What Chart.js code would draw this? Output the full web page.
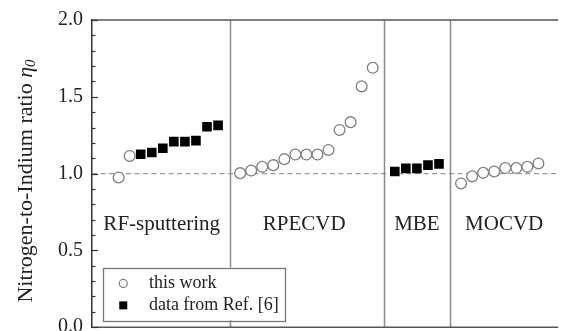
<!DOCTYPE html>
<html>
<head>
<meta charset="utf-8">
<script src="https://cdn.jsdelivr.net/npm/chart.js@4/dist/chart.umd.min.js"></script>
<style>
  html, body { margin: 0; padding: 0; overflow: hidden; background: #fff; }
  #wrap { width: 565px; height: 334px; }
</style>
</head>
<body>
<div id="wrap"><canvas id="chartRatio" width="565" height="334"></canvas></div>
<script>
// deposition methods and where they sit along the sample index
const groups = ['RF-sputtering', 'RPECVD', 'MBE', 'MOCVD'];
const groupLabelX = [3.9, 16.8, 27.0, 34.9];
const dividerX = [10.05, 24, 30];

// this work (open circles)
const thisWorkX = [0, 1,
  11, 12, 13, 14, 15, 16, 17, 18, 19, 20, 21, 22, 23,
  31, 32, 33, 34, 35, 36, 37, 38];
const thisWorkY = [0.975, 1.115,
  1.003, 1.02, 1.044, 1.055, 1.094, 1.124, 1.124, 1.124, 1.154, 1.284, 1.335, 1.568, 1.689,
  0.936, 0.982, 1.005, 1.014, 1.036, 1.036, 1.044, 1.066];

// data from Ref. [6] (filled squares)
const refX = [2, 3, 4, 5, 6, 7, 8, 9, 25, 26, 27, 28, 29];
const refY = [1.126, 1.137, 1.165, 1.208, 1.208, 1.215, 1.305, 1.314,
  1.014, 1.034, 1.034, 1.055, 1.063];

const yTicks = [0, 0.5, 1.0, 1.5, 2.0];
const refLine = 1.0;

const serif = 'Liberation Serif';

function toPoints(xs, ys) {
  return xs.map((x, i) => ({ x: x, y: ys[i] }));
}

// dividers, dashed 1.0 line, method names, frame and inward ticks
const decorations = {
  id: 'decorations',
  beforeDatasetsDraw(chart) {
    const { ctx, chartArea: a, scales: { x, y } } = chart;
    ctx.save();
    // dashed line at ratio 1
    ctx.strokeStyle = '#9a9a9a';
    ctx.lineWidth = 1.3;
    ctx.setLineDash([5, 3.5]);
    ctx.beginPath();
    ctx.moveTo(a.left, y.getPixelForValue(refLine));
    ctx.lineTo(a.right, y.getPixelForValue(refLine));
    ctx.stroke();
    ctx.setLineDash([]);
    // vertical dividers
    ctx.strokeStyle = '#8c8c8c';
    ctx.lineWidth = 1.5;
    dividerX.forEach(v => {
      const px = Math.round(x.getPixelForValue(v)) + 0.5;
      ctx.beginPath();
      ctx.moveTo(px, a.top);
      ctx.lineTo(px, a.bottom);
      ctx.stroke();
    });
    // method names
    ctx.fillStyle = '#222';
    ctx.font = '21px "' + serif + '"';
    ctx.textAlign = 'center';
    ctx.textBaseline = 'middle';
    groups.forEach((g, i) => {
      ctx.fillText(g, x.getPixelForValue(groupLabelX[i]), y.getPixelForValue(0.667));
    });
    // frame: top and bottom
    ctx.strokeStyle = '#555';
    ctx.lineWidth = 1.5;
    ctx.beginPath();
    ctx.moveTo(a.left, a.top);
    ctx.lineTo(a.right, a.top);
    ctx.moveTo(a.left, a.bottom);
    ctx.lineTo(a.right, a.bottom);
    ctx.stroke();
    // inward ticks on the left axis
    ctx.strokeStyle = '#333';
    ctx.lineWidth = 1.2;
    for (let k = 0; k <= 20; k++) {
      const py = Math.round(y.getPixelForValue(k / 10)) + 0.5;
      const len = k % 5 === 0 ? 6 : 3.5;
      ctx.beginPath();
      ctx.moveTo(a.left, py);
      ctx.lineTo(a.left + len, py);
      ctx.stroke();
    }
    ctx.restore();
  },
  afterDraw(chart) {
    const { ctx, scales: { x, y } } = chart;
    ctx.save();
    // y axis title with italic eta_0
    ctx.translate(26, 181);
    ctx.rotate(-Math.PI / 2);
    ctx.fillStyle = '#222';
    ctx.textBaseline = 'middle';
    ctx.textAlign = 'left';
    const main = 'Nitrogen-to-Indium ratio ';
    ctx.font = '22px "' + serif + '"';
    const w1 = ctx.measureText(main).width;
    ctx.font = 'italic 22px "' + serif + '"';
    const w2 = ctx.measureText('η').width;
    ctx.font = 'italic 15px "' + serif + '"';
    const w3 = ctx.measureText('0').width;
    let start = -(w1 + w2 + w3) / 2;
    ctx.font = '22px "' + serif + '"';
    ctx.fillText(main, start, 0);
    ctx.font = 'italic 22px "' + serif + '"';
    ctx.fillText('η', start + w1, 0);
    ctx.font = 'italic 15px "' + serif + '"';
    ctx.fillText('0', start + w1 + w2, 5);
    ctx.restore();

    // legend box in the lower left corner
    ctx.save();
    const bx0 = x.getPixelForValue(-1.45), bx1 = x.getPixelForValue(15.05);
    const by0 = y.getPixelForValue(0.388), by1 = y.getPixelForValue(0.045);
    ctx.fillStyle = '#fff';
    ctx.fillRect(bx0, by0, bx1 - bx0, by1 - by0);
    ctx.strokeStyle = '#777';
    ctx.lineWidth = 1.3;
    ctx.strokeRect(Math.round(bx0) + 0.5, Math.round(by0) + 0.5, Math.round(bx1 - bx0), Math.round(by1 - by0));
    const mx = x.getPixelForValue(0.42);
    const tx = x.getPixelForValue(2.74);
    const rows = [y.getPixelForValue(0.285), y.getPixelForValue(0.142)];
    const ds = chart.data.datasets;
    ctx.font = '18px "' + serif + '"';
    ctx.textBaseline = 'middle';
    ctx.textAlign = 'left';
    // circle marker
    ctx.strokeStyle = ds[0].borderColor;
    ctx.lineWidth = 1.2;
    ctx.beginPath();
    ctx.arc(mx, rows[0], 4, 0, Math.PI * 2);
    ctx.stroke();
    // square marker
    ctx.fillStyle = ds[1].backgroundColor;
    ctx.fillRect(mx - 4, rows[1] - 4, 8, 8);
    ctx.fillStyle = '#222';
    ctx.fillText(ds[0].label, tx, rows[0]);
    ctx.fillText(ds[1].label, tx, rows[1]);
    ctx.restore();
  }
};

const ctxRatio = document.getElementById('chartRatio').getContext('2d');
new Chart(ctxRatio, {
  type: 'scatter',
  data: {
    datasets: [{
      label: 'this work',
      data: toPoints(thisWorkX, thisWorkY),
      pointStyle: 'circle',
      pointRadius: 5.4,
      pointBorderWidth: 1.3,
      borderColor: '#7f7f7f',
      backgroundColor: '#fff'
    }, {
      label: 'data from Ref. [6]',
      data: toPoints(refX, refY),
      pointStyle: 'rect',
      pointRadius: 6.8,
      pointBorderWidth: 0,
      borderColor: '#000',
      backgroundColor: '#000'
    }]
  },
  options: {
    responsive: false,
    animation: false,
    devicePixelRatio: 1,
    layout: { padding: { top: 20, right: 0, bottom: 2, left: 0 } },
    plugins: {
      legend: { display: false },
      tooltip: { enabled: false },
      title: { display: false }
    },
    scales: {
      x: {
        type: 'linear',
        display: false,
        min: -2.41,
        max: 39.79
      },
      y: {
        min: 0,
        max: 2,
        afterFit(scale) {
          scale.width = 92;
          scale.paddingTop = 0;
          scale.paddingBottom = 0;
        },
        afterBuildTicks(scale) { scale.ticks = yTicks.map(v => ({ value: v })); },
        ticks: {
          callback: v => v.toFixed(1),
          font: { family: serif, size: 20 },
          color: '#222',
          padding: 9
        },
        grid: { drawOnChartArea: false, drawTicks: false },
        border: { display: true, color: '#333', width: 1.5 }
      }
    }
  },
  plugins: [decorations]
});
</script>
</body>
</html>
